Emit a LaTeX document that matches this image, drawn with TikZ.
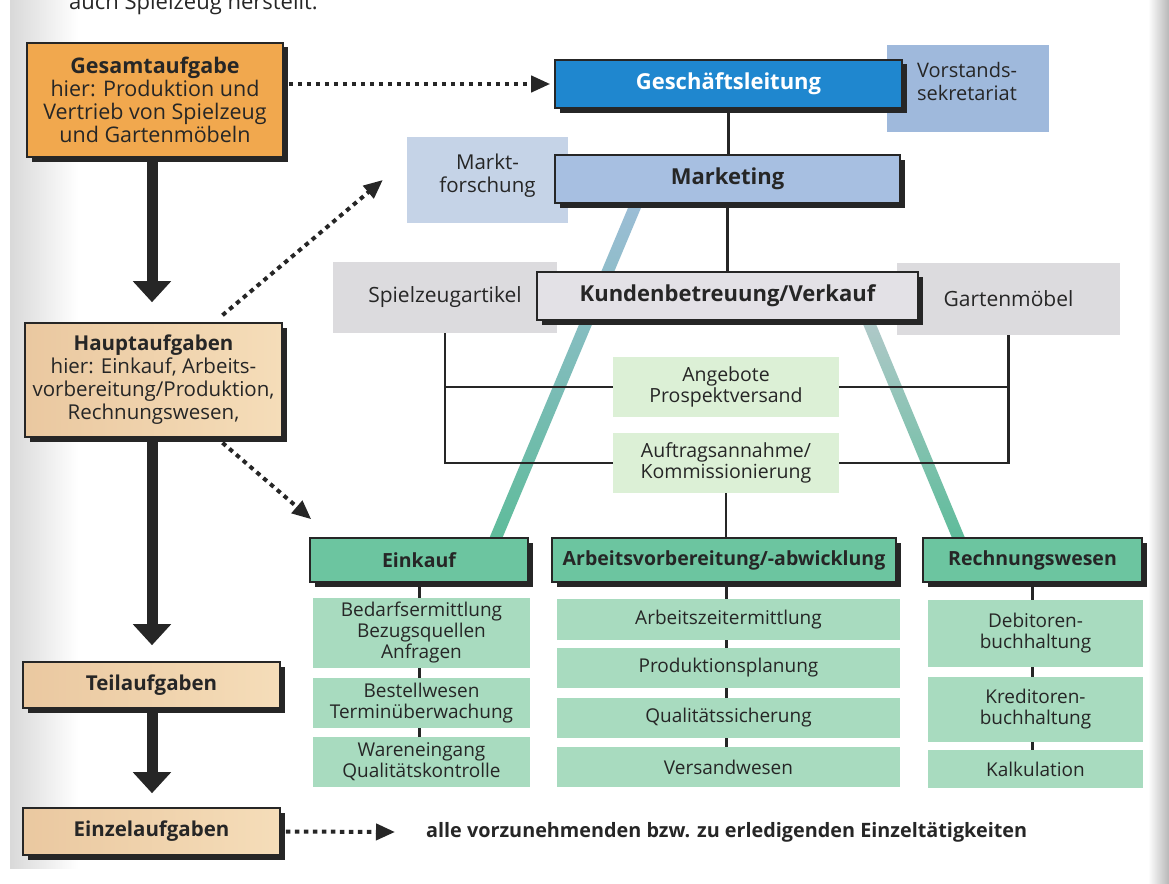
\documentclass[tikz,border=0pt]{standalone}
\usepackage{fontspec}
\setmainfont{Open Sans}
\usetikzlibrary{arrows.meta,shadows,calc}
\definecolor{ink}{HTML}{262626}
\definecolor{orangebox}{HTML}{F1A84E}
\definecolor{beige}{HTML}{F5DDB9}
\definecolor{beigedark}{HTML}{EAC8A0}
\definecolor{chiefblue}{HTML}{1F87CF}
\definecolor{staffblue}{HTML}{9FB9DC}
\definecolor{paleblue}{HTML}{C5D3E7}
\definecolor{midblue}{HTML}{A7BFE1}
\definecolor{salesgray}{HTML}{E3E1E6}
\definecolor{sidegray}{HTML}{DCDBDE}
\definecolor{palegreen}{HTML}{DCF0D6}
\definecolor{deptgreen}{HTML}{6CC5A0}
\definecolor{taskgreen}{HTML}{A8DBBF}
\definecolor{bandtop}{HTML}{9CBDD6}
\definecolor{bandbot}{HTML}{5FBC9B}
\definecolor{bandtopR}{HTML}{B7CACD}
\pgfdeclarelayer{paper}
\pgfdeclarelayer{links}
\pgfsetlayers{paper,links,main}

\begin{document}
\begin{tikzpicture}[x=1pt,y=-1pt,
  box/.style={draw=ink, line width=1.6pt, inner sep=0pt, align=center, text=ink,
    drop shadow={shadow xshift=4.5pt, shadow yshift=-4.5pt, fill=ink, opacity=1}},
  pad/.style={inner sep=0pt, align=center, text=ink},
  tanbox/.style={box, left color=beigedark, middle color=beige, right color=beige},
  leftfont/.style={font=\fontsize{20.5}{23}\selectfont},
  headfont/.style={font=\fontsize{22}{26}\selectfont\bfseries},
  deptfont/.style={font=\fontsize{19.5}{22}\selectfont\bfseries},
  taskfont/.style={font=\fontsize{19}{21}\selectfont},
  sidefont/.style={font=\fontsize{21}{23}\selectfont},
  dept/.style={box, fill=deptgreen, deptfont},
  task/.style={pad, fill=taskgreen, taskfont},
  bigarrow/.style={draw=ink, line width=11pt, -{Triangle[length=21pt,width=37pt]}},
  dotarrow/.style={draw=ink, line width=4pt, dash pattern=on 4.5pt off 4.5pt,
    -{Triangle[length=19pt,width=16pt]}},
  wire/.style={draw=ink, line width=2.4pt},
  tick/.style={draw=ink, line width=3pt},
  band/.style={shade, top color=#1, bottom color=bandbot},
]
\useasboundingbox (0,0) rectangle (1169,883);

% paper with shaded edges and the cut-off lead-in line
\begin{pgfonlayer}{paper}
  \fill[white] (0,0) rectangle (1169,883);
  \shade[left color=black!15, right color=white] (10,0) rectangle (78,868);
  \shade[left color=white, right color=black!28] (1148,0) rectangle (1169,883);
  \node[anchor=base west, inner sep=0pt, text=ink, font=\fontsize{22}{24}\selectfont]
    (lead) at (69,10) {auch Spielzeug herstellt:};
\end{pgfonlayer}

% ---- task hierarchy (left column) ----
\node[box, fill=orangebox, font=\fontsize{21.5}{23}\selectfont,
  minimum width=256pt, minimum height=114pt]
  (gesamt) at (155,100)
  {{\bfseries Gesamtaufgabe}\\hier: Produktion und\\Vertrieb von Spielzeug\\und Gartenmöbeln};
\node[tanbox, leftfont, minimum width=257pt, minimum height=114pt]
  (haupt) at (153.5,380)
  {{\bfseries Hauptaufgaben}\\hier: Einkauf, Arbeits-\\vorbereitung/Produktion,\\Rechnungswesen,};
\node[tanbox, leftfont, minimum width=257pt, minimum height=46pt]
  (teil) at (151.5,685) {\bfseries Teilaufgaben};
\node[tanbox, leftfont, minimum width=257pt, minimum height=47pt]
  (einzel) at (151.5,831.5) {\bfseries Einzelaufgaben};
\node[anchor=west, inner sep=0pt, text=ink, font=\fontsize{19.8}{22}\selectfont\bfseries]
  (note) at (426,832) {alle vorzunehmenden bzw. zu erledigenden Einzeltätigkeiten};

% ---- management levels ----
\node[pad, fill=staffblue, font=\fontsize{20}{23}\selectfont, align=left,
  text width=102pt, text depth=38pt, minimum width=162pt, minimum height=87pt]
  (vs) at (968,88.5) {Vorstands-\\sekretariat};
\node[box, fill=chiefblue, text=white, headfont, minimum width=347pt, minimum height=48pt]
  (gl) at (728.5,84) {Geschäftsleitung};
\node[pad, fill=paleblue, font=\fontsize{20.5}{23}\selectfont, text depth=14pt,
  minimum width=161pt, minimum height=86pt]
  (mf) at (487.5,180) {Markt-\\forschung};
\node[box, fill=midblue, headfont, minimum width=345pt, minimum height=48pt]
  (mk) at (727.5,179) {Marketing};
\node[pad, fill=sidegray, sidefont, minimum width=224pt, minimum height=71pt]
  (spiel) at (445,297.5) {Spielzeugartikel};
\node[pad, fill=sidegray, sidefont, minimum width=223pt, minimum height=72pt]
  (garten) at (1008.5,299) {Gartenmöbel};
\node[box, fill=salesgray, headfont, minimum width=381pt, minimum height=48pt]
  (kv) at (727.5,296) {Kundenbetreuung/Verkauf};
\node[pad, fill=palegreen, font=\fontsize{19.5}{21}\selectfont,
  minimum width=226pt, minimum height=60pt]
  (ang) at (726,387) {Angebote\\Prospektversand};
\node[pad, fill=palegreen, font=\fontsize{19.5}{21}\selectfont,
  minimum width=226pt, minimum height=60pt]
  (auf) at (726,463) {Auftragsannahme/\\Kommissionierung};

% ---- departments ----
\node[dept, minimum width=218pt, minimum height=44pt] (ek) at (419,560) {Einkauf};
\node[dept, minimum width=344pt, minimum height=44pt] (av) at (724,560)
  {Arbeitsvorbereitung/-abwicklung};
\node[dept, minimum width=219pt, minimum height=44pt] (rw) at (1032.5,560) {Rechnungswesen};

\node[task, minimum width=217pt, minimum height=70pt] (ek1) at (421.5,633)
  {Bedarfsermittlung\\Bezugsquellen\\Anfragen};
\node[task, minimum width=217pt, minimum height=50pt] (ek2) at (421.5,703)
  {Bestellwesen\\Terminüberwachung};
\node[task, minimum width=217pt, minimum height=50pt] (ek3) at (421.5,762)
  {Wareneingang\\Qualitätskontrolle};

\node[task, minimum width=343pt, minimum height=41pt] (av1) at (728.5,619.5) {Arbeitszeitermittlung};
\node[task, minimum width=343pt, minimum height=40pt] (av2) at (728.5,668) {Produktionsplanung};
\node[task, minimum width=343pt, minimum height=40pt] (av3) at (728.5,718) {Qualitätssicherung};
\node[task, minimum width=343pt, minimum height=40pt] (av4) at (728.5,767) {Versandwesen};

\node[task, minimum width=215pt, minimum height=67pt] (rw1) at (1035.5,633.5)
  {Debitoren-\\buchhaltung};
\node[task, minimum width=215pt, minimum height=65pt] (rw2) at (1035.5,709.5)
  {Kreditoren-\\buchhaltung};
\node[task, minimum width=215pt, minimum height=38pt] (rw3) at (1035.5,769) {Kalkulation};

% ---- connectors under the boxes ----
\begin{pgfonlayer}{links}
  % shaded bands from marketing / sales down to the departments
  \coordinate (lbT) at ($(mk.south west)+(82,0)$);
  \coordinate (lbB) at ($(ek.north west)+(187,0)$);
  \shade[band=bandtop] ($(lbT)+(-6.5,0)$) -- ($(lbT)+(6.5,0)$)
    -- ($(lbB)+(6.5,0)$) -- ($(lbB)+(-6.5,0)$) -- cycle;
  \coordinate (rbT) at ($(kv.south east)+(-59,-20)$);
  \coordinate (rbB) at ($(rw.north west)+(36,0)$);
  \shade[band=bandtopR] ($(rbT)+(-6.5,0)$) -- ($(rbT)+(6.5,0)$)
    -- ($(rbB)+(6.5,0)$) -- ($(rbB)+(-6.5,0)$) -- cycle;

  \draw[wire] (gl.south) -- (gl.south |- mk.north);
  \draw[wire] (mk.south) -- (mk.south |- kv.north);
  \draw[wire] (spiel.south) -- (spiel.south |- auf.west) -- (auf.west);
  \draw[wire] (spiel.south |- ang.west) -- (ang.west);
  \draw[wire] (garten.south) -- (garten.south |- auf.east) -- (auf.east);
  \draw[wire] (garten.south |- ang.east) -- (ang.east);
  \draw[wire] (auf.south) -- (auf.south |- av.north);

  \draw[tick] (ek.south) -- (ek.south |- ek1.north);
  \draw[tick] (ek1.south -| ek.south) -- (ek2.north -| ek.south);
  \draw[tick] (ek2.south -| ek.south) -- (ek3.north -| ek.south);
  \draw[tick] (av.south -| auf.south) -- (av1.north -| auf.south);
  \draw[tick] (av1.south -| auf.south) -- (av2.north -| auf.south);
  \draw[tick] (av2.south -| auf.south) -- (av3.north -| auf.south);
  \draw[tick] (av3.south -| auf.south) -- (av4.north -| auf.south);
  \draw[tick] (rw.south) -- (rw.south |- rw1.north);
  \draw[tick] (rw1.south -| rw.south) -- (rw2.north -| rw.south);
  \draw[tick] (rw2.south -| rw.south) -- (rw3.north -| rw.south);
\end{pgfonlayer}

% ---- arrows of the task hierarchy ----
\draw[bigarrow] ([xshift=-3pt]gesamt.south) -- ($(gesamt.south |- haupt.north)+(-3,-20)$);
\draw[bigarrow] ([xshift=-1.5pt]haupt.south) -- ($(haupt.south |- teil.north)+(-1.5,-16)$);
\draw[bigarrow] ([xshift=0.5pt]teil.south) -- ($(teil.south |- einzel.north)+(0.5,-14)$);

\draw[dotarrow] ([xshift=5pt]gesamt.east |- gl.west) -- ([xshift=-4pt]gl.west);
\draw[dotarrow] ($(haupt.north)+(69,-7)$) -- ($(mf.west)+(-24,0)$);
\draw[dotarrow] ($(haupt.south)+(69,5)$) -- ($(ek.north west)+(2,-18)$);
\draw[dotarrow] ([xshift=5pt]einzel.east) -- ($(note.west)+(-31,0)$);
\end{tikzpicture}
\end{document}
